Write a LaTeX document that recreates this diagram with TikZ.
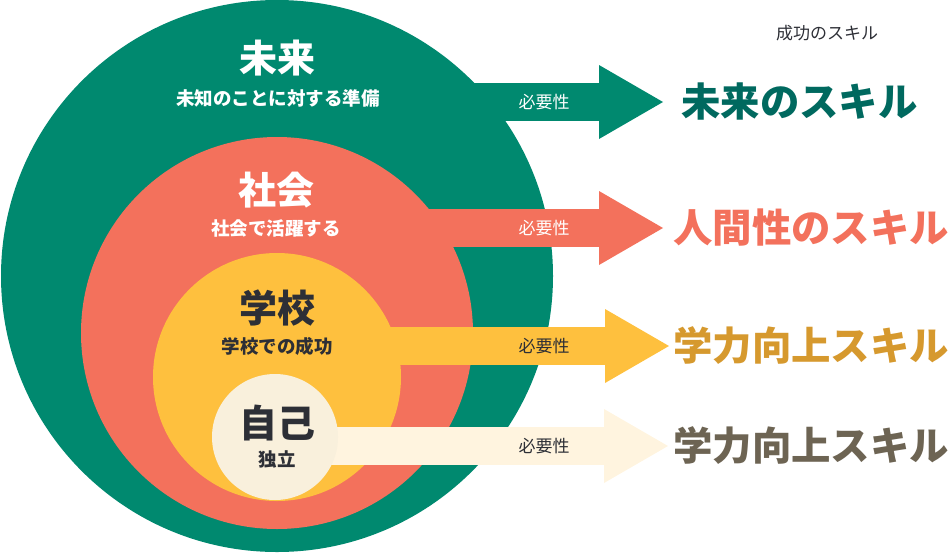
\documentclass[tikz,border=0pt]{standalone}
\usepackage{fontspec}
\setmainfont{Noto Sans CJK JP}
\usetikzlibrary{arrows.meta}
\definecolor{futgreen}{HTML}{00896F}
\definecolor{socred}{HTML}{F3715C}
\definecolor{schyellow}{HTML}{FEC03E}
\definecolor{selfcream}{HTML}{F9F0DC}
\definecolor{arrowcream}{HTML}{FFF4DF}
\definecolor{tealtext}{HTML}{00695F}
\definecolor{goldtext}{HTML}{D6992E}
\definecolor{browntext}{HTML}{6D6453}
\definecolor{darktext}{HTML}{2D2F36}

\begin{document}
\begin{tikzpicture}[x=1pt, y=-1pt,
    ring/.style={circle, draw=none, inner sep=0pt},
    title/.style={font=\bfseries\fontsize{38}{40}\selectfont, inner sep=0pt},
    subtitle/.style={font=\bfseries\fontsize{18.5}{20}\selectfont, inner sep=0pt},
    need/.style={font=\fontsize{17}{19}\selectfont, inner sep=0pt},
    skill/.style={font=\bfseries\fontsize{39.4}{41}\selectfont, inner sep=0pt, anchor=west},
    bigarrow/.style={line width=38pt, -{Triangle[length=64pt, width=74pt, line width=0pt]}}
]
\useasboundingbox (0,0) rectangle (950,552);

% Skill labels
\node[font=\fontsize{17}{19}\selectfont, text=darktext, inner sep=0pt] (header) at (827,33) {成功のスキル};
\node[skill, text=tealtext] (futSkill) at (681,102) {未来のスキル};
\node[skill, text=socred] (socSkill) at (673,228) {人間性のスキル};
\node[skill, text=goldtext] (schSkill) at (673,346) {学力向上スキル};
\node[skill, text=browntext] (selfSkill) at (673,446) {学力向上スキル};

% Circles and arrows, outer to inner
\node[ring, fill=futgreen, minimum size=552pt] (fut) at (277,276) {};
\draw[bigarrow, futgreen, shorten >=18pt] (fut.center |- futSkill.west) -- (futSkill.west);
\node[ring, fill=socred, minimum size=392pt] (soc) at (277,333) {};
\draw[bigarrow, socred, shorten >=10pt] (soc.center |- socSkill.west) -- (socSkill.west);
\node[ring, fill=schyellow, minimum size=248pt] (sch) at (277,377) {};
\draw[bigarrow, schyellow, shorten >=4pt] (sch.center |- schSkill.west) -- (schSkill.west);
\draw[bigarrow, arrowcream, shorten >=5pt] (277,446) -- (selfSkill.west);
\node[ring, fill=selfcream, minimum size=126pt] (self) at (275,437) {};

% Circle texts
\node[title, text=white] (futTitle) at (277,58) {未来};
\node[subtitle, text=white] (futSub) at (278,98) {未知のことに対する準備};
\node[title, text=white] (socTitle) at (276,190) {社会};
\node[subtitle, text=white] (socSub) at (276,228) {社会で活躍する};
\node[title, text=darktext] (schTitle) at (277,308) {学校};
\node[subtitle, text=darktext] (schSub) at (277,346) {学校での成功};
\node[title, text=darktext] (selfTitle) at (277,423) {自己};
\node[subtitle, text=darktext] (selfSub) at (277,459) {独立};

% Arrow labels
\node[need, text=white] (futNeed) at (544,102) {必要性};
\node[need, text=white] (socNeed) at (544,228) {必要性};
\node[need, text=darktext] (schNeed) at (544,346) {必要性};
\node[need, text=darktext] (selfNeed) at (544,446) {必要性};

\end{tikzpicture}
\end{document}
